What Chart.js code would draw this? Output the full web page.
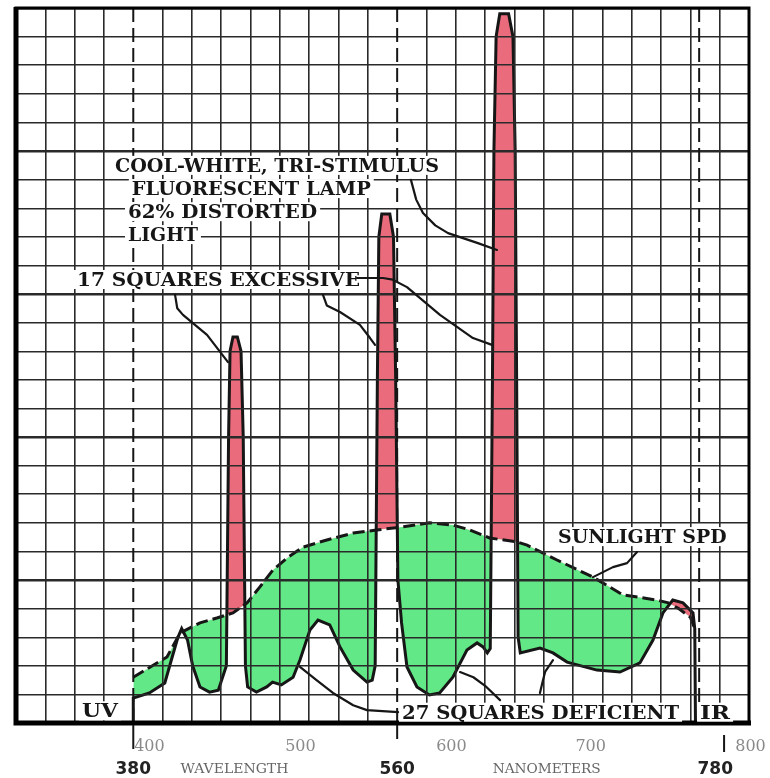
<!DOCTYPE html>
<html>
<head>
<meta charset="utf-8">
<title>Sunlight SPD vs cool-white fluorescent lamp</title>
<script src="https://cdn.jsdelivr.net/npm/chart.js@4"></script>
<style>
  html, body { margin: 0; padding: 0; background: #fff; }
</style>
</head>
<body>
<canvas id="spd" width="770" height="778"></canvas>
<script>
// wavelength (nm) and relative energy (in grid squares)
const sunWl  = [380, 403, 412, 425.5, 437, 448, 457.6, 466.4, 475.3, 484.9, 495.8, 512, 530, 546, 563, 582, 598, 609.7, 623, 642, 648.6, 669, 693.6, 714, 737, 745, 752, 760, 763];
const sunVal = [1.6, 2.31, 3.15, 3.5, 3.67, 3.85, 4.2, 4.76, 5.35, 5.77, 6.15, 6.4, 6.64, 6.75, 6.85, 7.0, 6.92, 6.75, 6.47, 6.33, 6.22, 5.7, 5.1, 4.48, 4.3, 4.2, 4.0, 3.7, 3.3];

const lampWl  = [380, 380, 391, 401.5, 406.5, 410.5, 413, 417, 420.5, 425.5, 432, 438,
  443.5, 445, 446, 448, 451, 453.5, 455, 456.5, 458,
  464, 471, 475, 481, 489, 493.7, 500.5, 506, 514, 521, 530, 539.4, 543,
  545, 546.5, 547.5, 549.5, 555, 557.5, 559, 560.5, 563,
  566.7, 573.5, 582, 589, 598, 607.6, 614.5, 618.6, 621.5,
  623.5, 625, 626, 627.5, 630, 636, 639, 640.5, 641.5, 642.5,
  644, 657.4, 666.3, 675.9, 696.3, 712, 725.6, 734.5, 741.3, 748, 755, 761.8, 763, 763.5];
const lampVal = [0, 0.87, 1.05, 1.4, 2.3, 3.0, 3.3, 2.9, 2.0, 1.26, 1.08, 1.15,
  2, 10, 13.0, 13.5, 13.5, 13.0, 10, 2, 1.26,
  1.08, 1.26, 1.43, 1.33, 1.6, 2.2, 3.25, 3.6, 3.43, 2.66, 1.85, 1.43, 1.5,
  2, 12, 17.0, 17.8, 17.8, 17.0, 12, 5, 3.5,
  1.96, 1.26, 0.98, 1.05, 1.6, 2.55, 2.8, 2.66, 2.45,
  2.6, 12, 20, 24, 24.8, 24.8, 24, 20, 12, 3,
  2.45, 2.62, 2.45, 2.13, 1.85, 1.78, 2.1, 2.9, 3.85, 4.3, 4.2, 3.85, 3.3, 0];

// axis label text and where it sits (nm)
const upperTickText = ['400', '500', '600', '700', '800'];
const upperTickWl   = [391, 494, 597, 692, 801];
const lowerTickText = ['380', '560', '780'];
const lowerTickWl   = [380, 560, 777];
const axisWords     = ['WAVELENGTH', 'NANOMETERS'];
const axisWordsWl   = [449, 662];
const markerWl      = [380, 560, 766];
const belowTickWl   = [380, 560, 783];

// callouts: [text, left nm, baseline value, width nm]
const notes = [
  ['COOL-WHITE, TRI-STIMULUS', 367.5, 19.27, 221],
  ['FLUORESCENT LAMP', 379, 18.46, 163],
  ['62% DISTORTED', 376.4, 17.65, 129],
  ['LIGHT', 376.4, 16.85, 47.7],
  ['17 SQUARES EXCESSIVE', 341.6, 15.28, 193],
  ['SUNLIGHT SPD', 669.7, 6.29, 115],
  ['27 SQUARES DEFICIENT', 563.3, 0.15, 189],
  ['UV', 345, 0.2, 24.5],
  ['IR', 766.6, 0.15, 20.5]
];
const leaders = [
  [[569.4, 18.99], [573, 18.3], [577.6, 17.83], [586, 17.4], [594.7, 17.13], [615.1, 16.78], [628.1, 16.54]],
  [[408.5, 14.97], [410, 14.5], [413.9, 14.27], [430.3, 13.57], [444.6, 12.62]],
  [[509.4, 14.97], [512, 14.6], [521, 14.37], [534.6, 13.92], [541.5, 13.46], [544.9, 13.22]],
  [[532.6, 15.56], [550.3, 15.56], [557, 15.5], [566.7, 15.24], [589.2, 14.27], [611.7, 13.46], [624.7, 13.22]],
  [[493.7, 1.96], [505, 1.5], [516.2, 1.05], [530, 0.62], [539.4, 0.45], [560.6, 0.38]],
  [[602.9, 1.78], [612, 1.6], [620, 1.3], [630.2, 0.8]],
  [[666.3, 2.2], [661, 1.8], [659.5, 1.5], [657.4, 1.05]],
  [[723.6, 5.98], [716.8, 5.59], [707.2, 5.45], [693.6, 5.1]]
];

const RED = '#ea6b7b';
const GREEN = '#62e886';
const INK = '#161616';

function toPts(xs, ys) {
  return xs.map((x, i) => ({ x: x, y: ys[i] }));
}

function fitText(ctx, txt, x, y, w, font, color) {
  ctx.save();
  ctx.font = font;
  const m = ctx.measureText(txt).width;
  ctx.translate(x, y);
  ctx.scale(w / m, 1);
  ctx.fillStyle = color;
  ctx.textBaseline = 'alphabetic';
  ctx.textAlign = 'left';
  ctx.fillText(txt, 0, 0);
  ctx.restore();
}

const decor = {
  id: 'decor',
  afterDraw(chart) {
    const ctx = chart.ctx;
    const xs = chart.scales.x, ys = chart.scales.y;
    const a = chart.chartArea;

    // dashed reference lines
    ctx.save();
    ctx.strokeStyle = INK;
    ctx.lineWidth = 2;
    ctx.setLineDash([14, 6]);
    markerWl.forEach(w => {
      const px = xs.getPixelForValue(w);
      ctx.beginPath();
      ctx.moveTo(px, a.top);
      ctx.lineTo(px, a.bottom);
      ctx.stroke();
    });
    ctx.restore();

    // frame
    ctx.save();
    ctx.strokeStyle = '#000';
    ctx.lineWidth = 3;
    ctx.strokeRect(a.left, a.top, a.right - a.left, a.bottom - a.top);
    ctx.lineWidth = 5;
    ctx.beginPath();
    ctx.moveTo(a.left, a.top - 1);
    ctx.lineTo(a.left, a.bottom);
    ctx.lineTo(a.right + 2, a.bottom);
    ctx.stroke();
    ctx.restore();

    // white boxes behind the callouts
    const font = 'bold 18px "DejaVu Serif"';
    ctx.save();
    ctx.fillStyle = '#fff';
    notes.forEach(n => {
      const x = xs.getPixelForValue(n[1]);
      const y = ys.getPixelForValue(n[2]);
      const w = xs.getPixelForValue(n[1] + n[3]) - x;
      ctx.fillRect(x - 3, y - 16, w + 6, 19);
    });
    ctx.restore();

    // leader lines
    ctx.save();
    ctx.strokeStyle = INK;
    ctx.lineWidth = 2.2;
    ctx.lineJoin = 'round';
    ctx.lineCap = 'round';
    leaders.forEach(path => {
      ctx.beginPath();
      path.forEach((p, i) => {
        const px = xs.getPixelForValue(p[0]), py = ys.getPixelForValue(p[1]);
        if (i === 0) ctx.moveTo(px, py); else ctx.lineTo(px, py);
      });
      ctx.stroke();
    });
    ctx.restore();

    notes.forEach(n => {
      const x = xs.getPixelForValue(n[1]);
      const y = ys.getPixelForValue(n[2]);
      const w = xs.getPixelForValue(n[1] + n[3]) - x;
      fitText(ctx, n[0], x, y, w, font, INK);
    });

    // ticks and labels under the axis
    ctx.save();
    ctx.strokeStyle = INK;
    ctx.lineWidth = 2;
    belowTickWl.forEach((w, i) => {
      const px = xs.getPixelForValue(w);
      ctx.beginPath();
      ctx.moveTo(px, a.bottom + (i === 2 ? 12 : 2));
      ctx.lineTo(px, a.bottom + (i === 0 ? 26 : (i === 1 ? 16 : 29)));
      ctx.stroke();
    });
    ctx.textAlign = 'center';
    ctx.textBaseline = 'alphabetic';
    ctx.fillStyle = '#8a8a8a';
    ctx.font = '16px "DejaVu Serif"';
    upperTickText.forEach((t, i) => {
      ctx.fillText(t, xs.getPixelForValue(upperTickWl[i]), a.bottom + 28);
    });
    ctx.fillStyle = '#222';
    ctx.font = 'bold 17px "DejaVu Sans"';
    lowerTickText.forEach((t, i) => {
      ctx.fillText(t, xs.getPixelForValue(lowerTickWl[i]), a.bottom + 51);
    });
    ctx.restore();
    axisWords.forEach((t, i) => {
      const cx = xs.getPixelForValue(axisWordsWl[i]);
      fitText(ctx, t, cx - 54, a.bottom + 50, 108, '12px "DejaVu Serif"', '#666');
    });
  }
};

new Chart(document.getElementById('spd'), {
  type: 'line',
  data: {
    datasets: [
      {
        label: 'Sunlight SPD',
        data: toPts(sunWl, sunVal),
        borderColor: INK,
        borderWidth: 3,
        borderDash: [12, 5],
        pointRadius: 0,
        fill: false,
        tension: 0
      },
      {
        label: 'Cool-white fluorescent lamp',
        data: toPts(lampWl, lampVal),
        borderColor: INK,
        borderWidth: 3,
        pointRadius: 0,
        tension: 0,
        fill: { target: 0, above: RED, below: GREEN }
      }
    ]
  },
  options: {
    responsive: false,
    devicePixelRatio: 1,
    animation: false,
    layout: { padding: { left: 16, right: 21, top: 8, bottom: 55 } },
    plugins: { legend: { display: false }, tooltip: { enabled: false } },
    scales: {
      x: {
        type: 'linear',
        min: 300,
        max: 800,
        ticks: { display: false, stepSize: 20 },
        border: { display: false },
        grid: {
          z: 1,
          drawTicks: false,
          color: c => markerWl.includes(c.tick.value) ? 'rgba(0,0,0,0)' : '#2a2a2a',
          lineWidth: 1.6
        }
      },
      y: {
        min: 0,
        max: 25,
        ticks: { display: false, stepSize: 1 },
        border: { display: false },
        grid: {
          z: 1,
          drawTicks: false,
          color: '#2a2a2a',
          lineWidth: c => c.tick.value % 5 === 0 ? 2.6 : 1.4
        }
      }
    }
  },
  plugins: [decor]
});
</script>
</body>
</html>
